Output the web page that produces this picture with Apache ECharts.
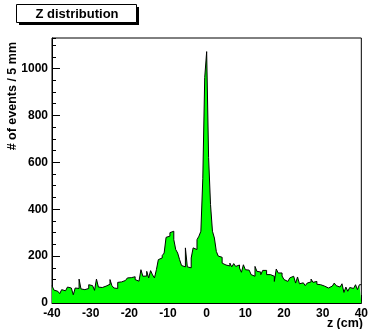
<!DOCTYPE html>
<html>
<head>
<meta charset="utf-8">
<script src="https://cdn.jsdelivr.net/npm/echarts@6/dist/echarts.min.js"></script>
<style>
html,body{margin:0;padding:0;background:#fff;}
#chart{width:371px;height:329px;}
</style>
</head>
<body>
<div id="chart"></div>
<script>
// Histogram: Z distribution, 160 bins of 5 mm from -40 cm to 40 cm
const titleText = 'Z distribution';
const xTitle = 'z (cm)';
const yTitle = '# of events / 5 mm';
const binStart = -40;
const binWidth = 0.5;
const xMin = -40, xMax = 40, xMajor = 10, xMinor = 2;
const yMin = 0, yMax = 1130, yMajor = 200, yMinor = 50;
const counts = [
  74,55,50,45,40,57,52,48,68,64,
  66,35,64,62,102,60,57,60,62,78,
  74,72,54,102,68,66,74,72,78,80,
  100,74,64,62,88,90,97,96,98,107,
  108,115,112,100,93,95,142,114,115,135,
  107,138,120,107,142,185,192,202,213,280,
  285,300,306,270,228,213,185,160,154,235,
  154,150,192,235,228,270,285,306,530,962,
  1072,620,420,306,277,220,200,195,170,162,
  156,158,170,154,168,156,162,149,131,163,
  142,140,135,121,114,156,135,132,121,139,
  139,121,121,128,114,92,145,128,128,115,
  100,92,100,107,114,112,85,111,82,86,
  78,74,85,90,102,88,92,80,78,78,
  72,70,64,68,72,78,85,74,68,68,
  82,45,68,50,66,62,60,78,57,78
];

// step outline: each bin contributes its left and right edge at its count
const stepData = [];
counts.forEach((v, i) => {
  stepData.push([binStart + i * binWidth, v]);
  stepData.push([binStart + (i + 1) * binWidth, v]);
});

const FONT = 'Liberation Sans, Arial, Helvetica, sans-serif';
const chart = echarts.init(document.getElementById('chart'), null, {renderer: 'canvas'});

const majorLabel = {
  color: '#000', fontFamily: FONT, fontWeight: 'bold', fontSize: 12,
  formatter: v => String(v)
};

chart.setOption({
  animation: false,
  backgroundColor: '#fff',
  grid: {
    left: 52, right: 8, top: 38, bottom: 26,
    show: true, borderColor: '#000', borderWidth: 1, backgroundColor: '#fff'
  },
  xAxis: [
    {
      type: 'value', min: xMin, max: xMax, interval: xMajor, position: 'bottom',
      axisLine: {show: true, onZero: false, lineStyle: {color: '#000', width: 1}},
      axisTick: {show: true, inside: true, length: 8, lineStyle: {color: '#000'}},
      axisLabel: Object.assign({margin: 5, showMinLabel: true, showMaxLabel: true}, majorLabel),
      splitLine: {show: false}
    },
    {
      type: 'value', min: xMin, max: xMax, interval: xMinor, position: 'bottom',
      axisLine: {show: false, onZero: false},
      axisTick: {show: true, inside: true, length: 4, lineStyle: {color: '#000'}},
      axisLabel: {show: false},
      splitLine: {show: false}
    }
  ],
  yAxis: [
    {
      type: 'value', min: yMin, max: yMax, interval: yMajor, position: 'left',
      axisLine: {show: true, onZero: false, lineStyle: {color: '#000', width: 1}},
      axisTick: {show: true, inside: true, length: 8, lineStyle: {color: '#000'}},
      axisLabel: Object.assign({margin: 4, showMinLabel: true, showMaxLabel: false}, majorLabel),
      splitLine: {show: false}
    },
    {
      type: 'value', min: yMin, max: yMax, interval: yMinor, position: 'left',
      axisLine: {show: false, onZero: false},
      axisTick: {show: true, inside: true, length: 4, lineStyle: {color: '#000'}},
      axisLabel: {show: false},
      splitLine: {show: false}
    }
  ],
  series: [{
    type: 'line',
    xAxisIndex: 0, yAxisIndex: 0,
    data: stepData,
    showSymbol: false,
    symbol: 'none',
    lineStyle: {color: '#000', width: 1},
    areaStyle: {color: '#00ff00', opacity: 1},
    z: 1
  }],
  graphic: [
    {type: 'rect', shape: {x: 19, y: 7, width: 120, height: 18}, style: {fill: '#000'}, z: 10},
    {type: 'rect', shape: {x: 16.5, y: 4.5, width: 120, height: 18}, style: {fill: '#fff', stroke: '#000', lineWidth: 1}, z: 11},
    {type: 'text', x: 77, y: 14, z: 12,
      style: {text: titleText, fill: '#000', font: 'bold 13px ' + FONT, textAlign: 'center', textVerticalAlign: 'middle'}},
    {type: 'text', x: 13, y: 42, rotation: Math.PI / 2, z: 12,
      style: {text: yTitle, fill: '#000', font: 'bold 12.5px ' + FONT, textAlign: 'right', textVerticalAlign: 'middle'}},
    {type: 'text', x: 363, y: 324, z: 12,
      style: {text: xTitle, fill: '#000', font: 'bold 12.5px ' + FONT, textAlign: 'right', textVerticalAlign: 'middle'}}
  ]
});
</script>
</body>
</html>
